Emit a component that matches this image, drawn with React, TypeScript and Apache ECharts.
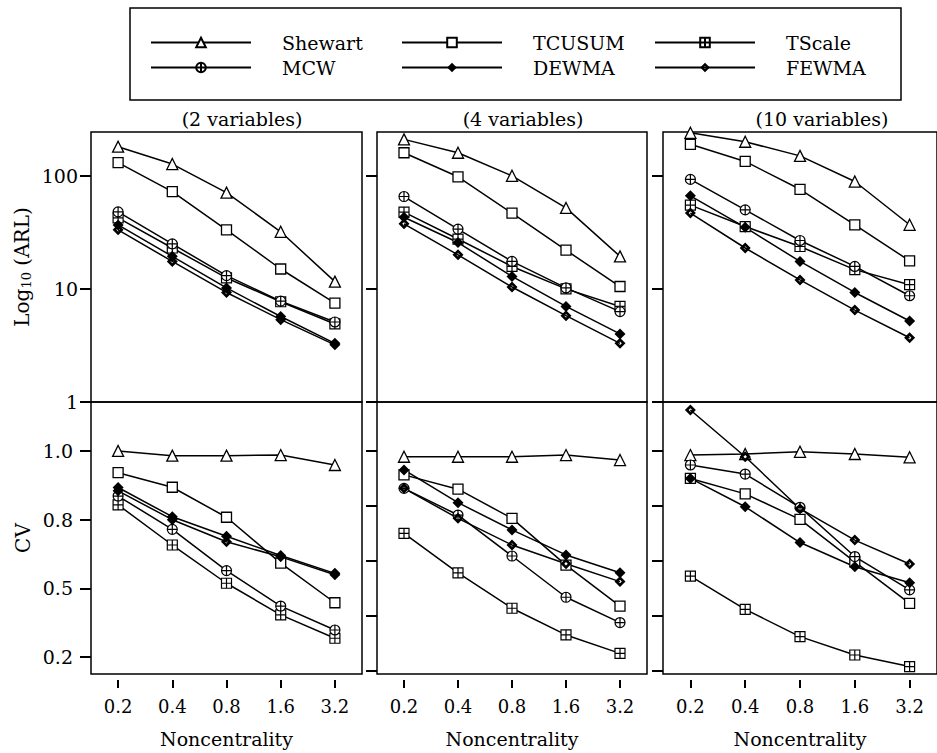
import React, { useEffect, useRef } from "react";
import * as echarts from "echarts";

// ---------- data ----------
const categories = ["0.2", "0.4", "0.8", "1.6", "3.2"];
const methods = ["Shewart", "TCUSUM", "TScale", "MCW", "DEWMA", "FEWMA"];
const panelTitles = ["(2 variables)", "(4 variables)", "(10 variables)"];
const xAxisTitle = "Noncentrality";
const arlTickValues = [1, 10, 100];
const cvTickValuesLeft = [1, 0.75, 0.5, 0.25];
const cvTickLabelsLeft = ["1.0", "0.8", "0.5", "0.2"];
const cvTickValuesOther = [1, 0.8, 0.6, 0.4, 0.2];

// ARL (log scale), 2 variables
const arl2Shewart = [181, 127, 71, 32, 11.6];
const arl2TCUSUM = [131, 72.6, 33.3, 15, 7.5];
const arl2TScale = [42.5, 23, 12.5, 7.7, 4.9];
const arl2MCW = [48, 25, 13.1, 7.8, 5.1];
const arl2DEWMA = [36.8, 19.4, 10.2, 5.7, 3.3];
const arl2FEWMA = [33.3, 17.5, 9.3, 5.35, 3.2];
// ARL, 4 variables
const arl4Shewart = [210, 160, 100, 52, 19.4];
const arl4TCUSUM = [160, 98, 46.7, 22, 10.5];
const arl4TScale = [47.7, 27.6, 15.8, 10, 7.0];
const arl4MCW = [65.6, 33.8, 17.5, 10.2, 6.3];
const arl4DEWMA = [43, 25.7, 12.9, 7.0, 4.0];
const arl4FEWMA = [37.6, 20, 10.4, 5.8, 3.3];
// ARL, 10 variables
const arl10Shewart = [240, 200, 150, 89, 36.9];
const arl10TCUSUM = [190, 134, 76, 36.9, 17.7];
const arl10TScale = [55, 35.6, 23.7, 14.8, 10.9];
const arl10MCW = [93, 50, 26.8, 15.8, 8.7];
const arl10DEWMA = [66.5, 35, 17.5, 9.3, 5.2];
const arl10FEWMA = [46.8, 23, 12, 6.5, 3.7];

// CV, 2 variables
const cv2Shewart = [1.0, 0.983, 0.983, 0.985, 0.949];
const cv2TCUSUM = [0.921, 0.868, 0.759, 0.592, 0.448];
const cv2TScale = [0.804, 0.658, 0.519, 0.404, 0.319];
const cv2MCW = [0.836, 0.715, 0.565, 0.436, 0.349];
const cv2DEWMA = [0.867, 0.761, 0.69, 0.62, 0.555];
const cv2FEWMA = [0.855, 0.75, 0.67, 0.615, 0.55];
// CV, 4 variables
const cv4Shewart = [0.979, 0.979, 0.979, 0.985, 0.967];
const cv4TCUSUM = [0.913, 0.861, 0.755, 0.585, 0.436];
const cv4TScale = [0.70, 0.557, 0.428, 0.331, 0.264];
const cv4MCW = [0.864, 0.767, 0.618, 0.468, 0.376];
const cv4DEWMA = [0.931, 0.812, 0.713, 0.622, 0.557];
const cv4FEWMA = [0.864, 0.755, 0.658, 0.59, 0.525];
// CV, 10 variables
const cv10Shewart = [0.985, 0.989, 0.997, 0.989, 0.977];
const cv10TCUSUM = [0.9, 0.844, 0.751, 0.597, 0.446];
const cv10TScale = [0.545, 0.424, 0.325, 0.258, 0.216];
const cv10MCW = [0.949, 0.916, 0.795, 0.616, 0.495];
const cv10DEWMA = [0.9, 0.797, 0.667, 0.579, 0.521];
const cv10FEWMA = [1.149, 0.979, 0.79, 0.676, 0.589];

const arlPanels = [
  { Shewart: arl2Shewart, TCUSUM: arl2TCUSUM, TScale: arl2TScale, MCW: arl2MCW, DEWMA: arl2DEWMA, FEWMA: arl2FEWMA },
  { Shewart: arl4Shewart, TCUSUM: arl4TCUSUM, TScale: arl4TScale, MCW: arl4MCW, DEWMA: arl4DEWMA, FEWMA: arl4FEWMA },
  { Shewart: arl10Shewart, TCUSUM: arl10TCUSUM, TScale: arl10TScale, MCW: arl10MCW, DEWMA: arl10DEWMA, FEWMA: arl10FEWMA },
];
const cvPanels = [
  { Shewart: cv2Shewart, TCUSUM: cv2TCUSUM, TScale: cv2TScale, MCW: cv2MCW, DEWMA: cv2DEWMA, FEWMA: cv2FEWMA },
  { Shewart: cv4Shewart, TCUSUM: cv4TCUSUM, TScale: cv4TScale, MCW: cv4MCW, DEWMA: cv4DEWMA, FEWMA: cv4FEWMA },
  { Shewart: cv10Shewart, TCUSUM: cv10TCUSUM, TScale: cv10TScale, MCW: cv10MCW, DEWMA: cv10DEWMA, FEWMA: cv10FEWMA },
];

// ---------- styles ----------
const FONT = "DejaVu Serif";
const symbols: Record<string, { symbol: string; fill: string; size: number; border: number }> = {
  Shewart: { symbol: "triangle", fill: "#fff", size: 11, border: 1.3 },
  TCUSUM: { symbol: "rect", fill: "#fff", size: 10, border: 1.3 },
  TScale: { symbol: "path://M0,0L10,0L10,10L0,10Z M5,0L5,10 M0,5L10,5", fill: "#fff", size: 10, border: 1.2 },
  MCW: { symbol: "path://M0,5A5,5 0 1 1 10,5A5,5 0 1 1 0,5Z M5,0L5,10 M0,5L10,5", fill: "#fff", size: 10, border: 1.2 },
  DEWMA: { symbol: "diamond", fill: "#000", size: 11, border: 0 },
  FEWMA: { symbol: "path://M5,0L10,5L5,10L0,5Z M5,3.4L3.4,5L5,6.6L6.6,5Z", fill: "#000", size: 11, border: 0 },
};

const gridLefts = [91, 377, 663];
const gridWidths = [271, 270, 280];

export default function App() {
  const ref = useRef<HTMLDivElement>(null);
  useEffect(() => {
    if (!ref.current) return;
    const chart = echarts.init(ref.current, undefined, { renderer: "svg" });

    const grids: any[] = [];
    const xAxes: any[] = [];
    const yAxes: any[] = [];
    const series: any[] = [];

    for (let row = 0; row < 2; row++) {
      for (let col = 0; col < 3; col++) {
        const idx = row * 3 + col;
        grids.push({
          left: gridLefts[col],
          width: gridWidths[col],
          top: row === 0 ? 132 : 402,
          height: row === 0 ? 270 : 272,
          show: true,
          borderColor: "#000",
          borderWidth: 1.5,
          backgroundColor: "transparent",
        });
        xAxes.push({
          type: "category",
          gridIndex: idx,
          data: categories,
          boundaryGap: true,
          show: row === 1,
          offset: 6,
          axisLine: { show: false },
          axisTick: { show: true, alignWithLabel: true, length: 8, lineStyle: { color: "#000", width: 2 } },
          axisLabel: { color: "#000", fontFamily: FONT, fontSize: 18, margin: 17 },
          splitLine: { show: false },
          name: row === 1 ? xAxisTitle : "",
          nameLocation: "middle",
          nameGap: 49,
          nameTextStyle: { color: "#000", fontFamily: FONT, fontSize: 19 },
        });
        if (row === 0) {
          yAxes.push({
            type: "log",
            logBase: 10,
            gridIndex: idx,
            min: 1,
            max: 244,
            axisLine: { show: false },
            splitLine: { show: false },
            axisTick: { show: true, length: 11, customValues: arlTickValues, lineStyle: { color: "#000", width: 2 } },
            axisLabel: {
              show: col === 0,
              customValues: arlTickValues,
              color: "#000",
              fontFamily: FONT,
              fontSize: 19,
              margin: 13,
              formatter: (v: number) => (arlTickValues.indexOf(Math.round(v)) >= 0 ? String(Math.round(v)) : ""),
            },
            name: col === 0 ? "{a|Log}{b|10}{a| (ARL)}" : "",
            nameLocation: "middle",
            nameRotate: 90,
            nameGap: 58,
            nameTextStyle: {
              rich: {
                a: { fontFamily: FONT, fontSize: 20, color: "#000" },
                b: { fontFamily: FONT, fontSize: 13, color: "#000", padding: [10, 0, 0, 0] },
              },
            },
          });
        } else {
          const tv = col === 0 ? cvTickValuesLeft : cvTickValuesOther;
          yAxes.push({
            type: "value",
            gridIndex: idx,
            min: 0.189,
            max: 1.178,
            axisLine: { show: false },
            splitLine: { show: false },
            axisTick: { show: true, length: 11, customValues: tv, lineStyle: { color: "#000", width: 2 } },
            axisLabel: {
              show: col === 0,
              customValues: cvTickValuesLeft,
              color: "#000",
              fontFamily: FONT,
              fontSize: 19,
              margin: 18,
              formatter: (v: number) => {
                const i = cvTickValuesLeft.findIndex((t) => Math.abs(t - v) < 1e-6);
                return i >= 0 ? cvTickLabelsLeft[i] : "";
              },
            },
            name: col === 0 ? "CV" : "",
            nameLocation: "middle",
            nameRotate: 90,
            nameGap: 58,
            nameTextStyle: { fontFamily: FONT, fontSize: 20, color: "#000" },
          });
        }
        const panelData: any = row === 0 ? arlPanels[col] : cvPanels[col];
        for (const m of methods) {
          const s = symbols[m];
          series.push({
            name: m,
            type: "line",
            xAxisIndex: idx,
            yAxisIndex: idx,
            data: panelData[m],
            symbol: s.symbol,
            symbolSize: s.size,
            showAllSymbol: true,
            clip: false,
            lineStyle: { color: "#000", width: 1.5 },
            itemStyle: { color: s.fill, borderColor: "#000", borderWidth: s.border },
            emphasis: { disabled: true },
          });
        }
      }
    }

    const legendPos: [string, number, number][] = [
      ["Shewart", 150, 33],
      ["MCW", 150, 58],
      ["TCUSUM", 401, 33],
      ["DEWMA", 401, 58],
      ["TScale", 654, 33],
      ["FEWMA", 654, 58],
    ];
    const legends = legendPos.map(([name, left, top]) => ({
      data: [name],
      left,
      top,
      padding: 0,
      itemWidth: 100,
      itemHeight: 12,
      selectedMode: false,
      formatter: (n: string) => `{t|${n}}`,
      textStyle: {
        fontFamily: FONT,
        fontSize: 19,
        color: "#000",
        rich: { t: { fontFamily: FONT, fontSize: 19, color: "#000", padding: [0, 0, 0, 26] } },
      },
    }));

    const titleX = [242, 523, 822];
    const graphic: any[] = [
      {
        type: "rect",
        shape: { x: 130, y: 8, width: 771, height: 92 },
        style: { fill: "none", stroke: "#000", lineWidth: 1.5 },
      },
      ...panelTitles.map((t, i) => ({
        type: "text",
        x: titleX[i],
        y: 119,
        style: {
          text: t,
          font: `19px '${FONT}'`,
          fill: "#000",
          align: "center",
          verticalAlign: "middle",
          textAlign: "center",
          textVerticalAlign: "middle",
        },
      })),
    ];

    chart.setOption({
      animation: false,
      backgroundColor: "#fff",
      grid: grids,
      xAxis: xAxes,
      yAxis: yAxes,
      series,
      legend: legends,
      graphic,
    });
    return () => chart.dispose();
  }, []);
  return (
    <div
      ref={ref}
      style={{ position: "fixed", left: 0, top: 0, width: 937, height: 753 }}
    />
  );
}
